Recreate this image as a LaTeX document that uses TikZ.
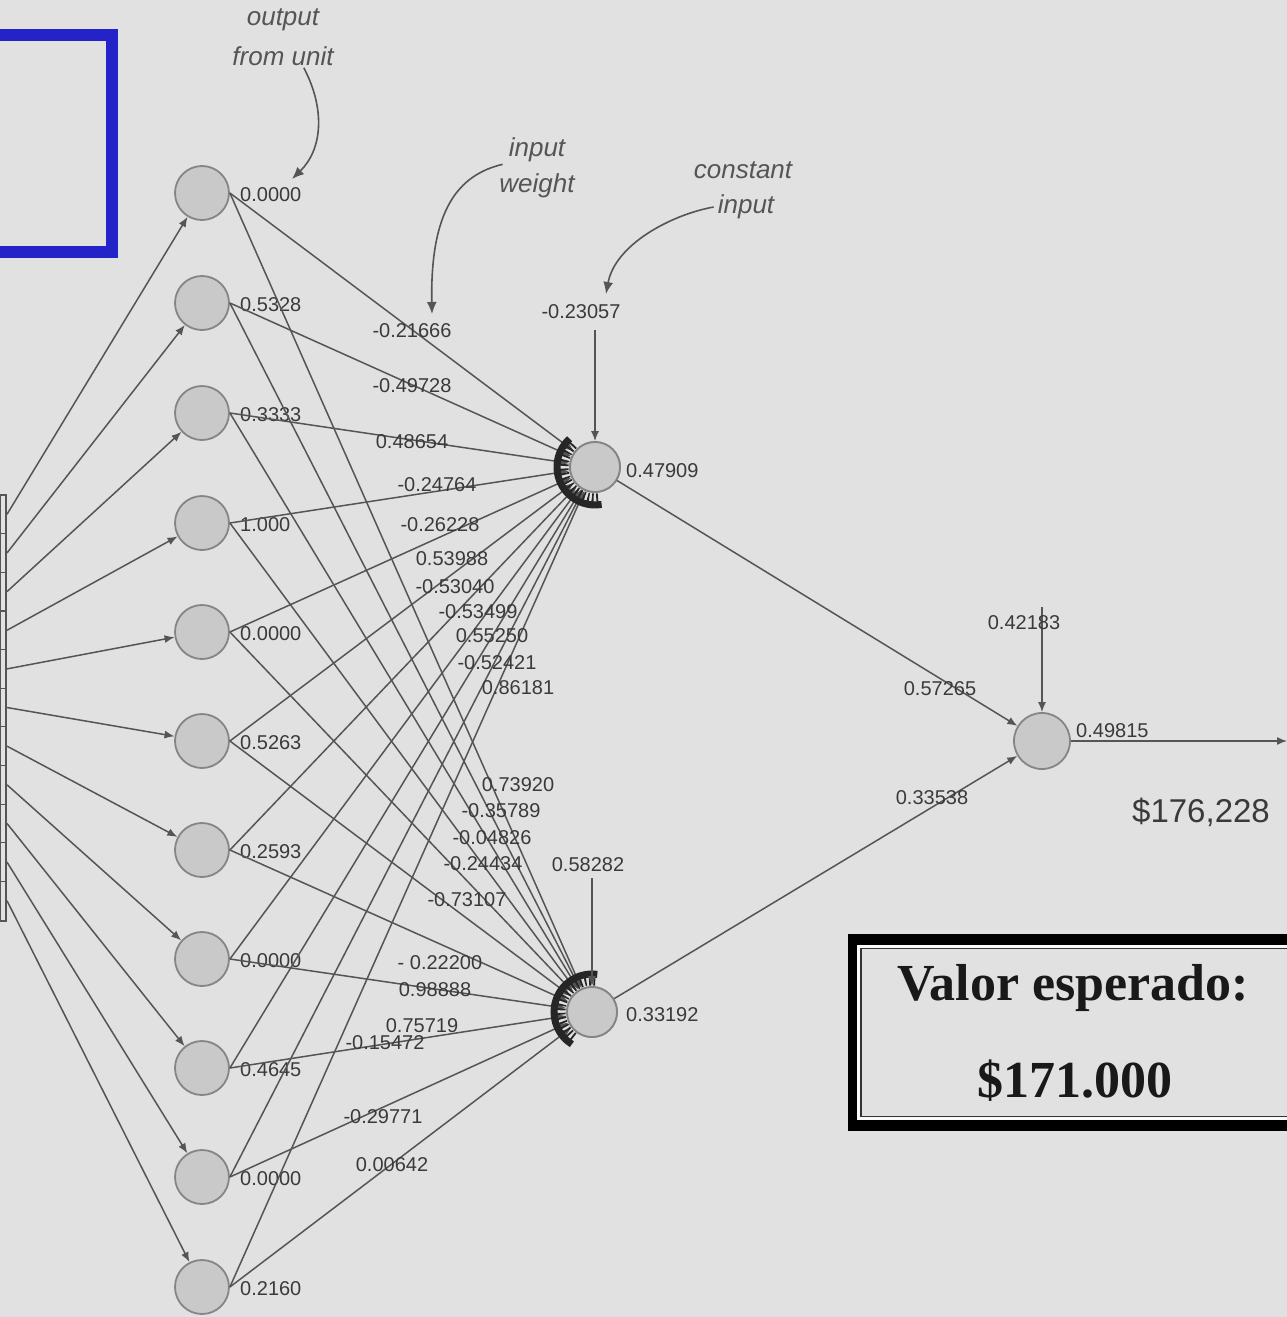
\documentclass[tikz,border=0pt]{standalone}
\usepackage{fontspec}
\setmainfont{Liberation Serif}
\setsansfont{Liberation Sans}
\usetikzlibrary{arrows.meta}
\definecolor{paper}{HTML}{E1E1E1}
\definecolor{wirecol}{HTML}{555555}
\definecolor{txt}{HTML}{3A3A3A}
\definecolor{notecol}{HTML}{555555}
\definecolor{unitfill}{HTML}{C9C9C9}
\definecolor{unitedge}{HTML}{858585}
\definecolor{combcol}{HTML}{262626}
\definecolor{framblue}{HTML}{2323C8}
\begin{document}
\begin{tikzpicture}[x=1pt,y=-1pt,
  unit/.style={circle, draw=unitedge, line width=1.8pt, fill=unitfill, minimum size=54pt, inner sep=0pt},
  hid/.style={unit, minimum size=50pt},
  wire/.style={draw=wirecol, line width=1.5pt},
  tip/.style={-{Latex[length=10pt,width=8pt]}},
  notewire/.style={draw=notecol, line width=1.6pt, -{Latex[length=12pt,width=10pt]}},
  num/.style={font=\sffamily\fontsize{20}{20}\selectfont, text=txt, inner sep=0pt},
  note/.style={font=\sffamily\itshape\fontsize{26}{26}\selectfont, text=notecol, inner sep=0pt},
  comb/.style={draw=combcol, line width=7pt},
  teeth/.style={draw=combcol, line width=9pt, dash pattern=on 1.8pt off 2.6pt},
]
\useasboundingbox[fill=paper] (0,0) rectangle (1287,1317);

% blue frame at the top left
\draw[framblue, line width=12pt] (-20,35) rectangle (112,252);

% input strip on the left edge
\draw[wirecol, line width=1.6pt] (0,495) rectangle (6,921);
\foreach \k in {1,...,10}
  \draw[wirecol, line width=1.2pt] (0,{495+38.64*\k}) -- (6,{495+38.64*\k});
\foreach \i in {1,...,11}
  \coordinate (s\i) at (7,{495+38.64*(\i-0.5)});

% input units with their outputs
\foreach \i/\y/\v in {1/193/0.0000, 2/303/0.5328, 3/413/0.3333, 4/523/1.000,
    5/632/0.0000, 6/741/0.5263, 7/850/0.2593, 8/959/0.0000, 9/1068/0.4645,
    10/1177/0.0000, 11/1287/0.2160} {
  \node[unit] (in\i) at (202,\y) {};
  \node[num, anchor=west] (v\i) at (240,\y+2) {\v};
}

% hidden and output units
\node[hid] (h1) at (595,467) {};
\node[hid] (h2) at (592,1012) {};
\node[unit, minimum size=56pt] (out) at (1042,741) {};

% strip to inputs
\foreach \i in {1,...,11}
  \draw[wire, tip] (s\i) -- (in\i);

% inputs to hidden units
\foreach \i in {1,...,11} {
  \draw[wire, tip] (in\i.east) -- (h1);
  \draw[wire, tip] (in\i.east) -- (h2);
}

% arrowhead combs gathered on the hidden units
\draw[comb] ([shift={(-132:38)}]h1.center) arc[start angle=-132, end angle=-280, radius=38];
\draw[teeth] ([shift={(-134:31)}]h1.center) arc[start angle=-134, end angle=-278, radius=31];
\draw[comb] ([shift={(-82:38)}]h2.center) arc[start angle=-82, end angle=-238, radius=38];
\draw[teeth] ([shift={(-84:31)}]h2.center) arc[start angle=-84, end angle=-236, radius=31];
\node[hid] at (h1) {};
\node[hid] at (h2) {};

% hidden to output and final output
\draw[wire, tip] (h1) -- (out);
\draw[wire, tip] (h2) -- (out);
\coordinate (yend) at (1287,741);
\draw[wire, tip] (out) -- (yend);

% constant inputs
\coordinate (c1) at (595,330);
\coordinate (c2) at (592,878);
\coordinate (c3) at (1042,607);
\draw[wire, tip] (c1) -- (h1.north);
\draw[wire, tip] (c2) -- (h2.north);
\draw[wire, tip] (c3) -- (out.north);
\node[num] (cb1) at (581,312) {-0.23057};
\node[num] (cb2) at (588,865) {0.58282};
\node[num] (cb3) at (1024,623) {0.42183};

% unit outputs
\node[num, anchor=west] (o1) at (626,471) {0.47909};
\node[num, anchor=west] (o2) at (626,1015) {0.33192};
\node[num, anchor=west] (o3) at (1076,731) {0.49815};
\node[num] (w31) at (940,689) {0.57265};
\node[num] (w32) at (932,798) {0.33538};

% weights into the first hidden unit
\node[num] (a1)  at (412,331) {-0.21666};
\node[num] (a2)  at (412,386) {-0.49728};
\node[num] (a3)  at (412,442) {0.48654};
\node[num] (a4)  at (437,485) {-0.24764};
\node[num] (a5)  at (440,525) {-0.26228};
\node[num] (a6)  at (452,559) {0.53988};
\node[num] (a7)  at (455,587) {-0.53040};
\node[num] (a8)  at (478,612) {-0.53499};
\node[num] (a9)  at (492,636) {0.55250};
\node[num] (a10) at (497,663) {-0.52421};
\node[num] (a11) at (518,688) {0.86181};

% weights into the second hidden unit
\node[num] (b1)  at (518,785) {0.73920};
\node[num] (b2)  at (501,811) {-0.35789};
\node[num] (b3)  at (492,838) {-0.04826};
\node[num] (b4)  at (483,864) {-0.24434};
\node[num] (b5)  at (467,900) {-0.73107};
\node[num] (b6)  at (440,963) {- 0.22200};
\node[num] (b7)  at (435,990) {0.98888};
\node[num] (b8)  at (422,1026) {0.75719};
\node[num] (b9)  at (385,1043) {-0.15472};
\node[num] (b10) at (383,1117) {-0.29771};
\node[num] (b11) at (392,1165) {0.00642};

% annotations
\node[note] (n1a) at (283,20) {output};
\node[note] (n1b) at (283,56) {from unit};
\node[note] (n2a) at (537,150) {input};
\node[note] (n2b) at (537,186) {weight};
\node[note] (n3a) at (743,170) {constant};
\node[note] (n3b) at (746,207) {input};
\coordinate (t1) at (292,179);
\coordinate (t2) at (432,314);
\coordinate (t3) at (606,294);
\draw[notewire] (n1b.south east) ++(-30,2) .. controls (326,110) and (322,150) .. (t1);
\draw[notewire] (n2a.south west) ++(-6,2) .. controls (458,175) and (430,210) .. (t2);
\draw[notewire] (n3b.west) ++(-4,0) .. controls (670,215) and (615,245) .. (t3);

% predicted price
\node[font=\sffamily\fontsize{33}{33}\selectfont, text=txt, anchor=base, inner sep=0pt] (pred) at (1201,822) {\$176,228};

% expected value box
\draw[black, line width=11pt] (853,939) rectangle (1310,1125);
\draw[white!85!paper, line width=3pt] (858.5,946.5) rectangle (1310,1118.5);
\draw[black!80, line width=1.3pt] (861,948.5) rectangle (1310,1116.5);
\node[font=\fontsize{52}{52}\selectfont\bfseries, text=black!90, anchor=base, inner sep=0pt] (ev1) at (1073,1000) {Valor esperado:};
\node[font=\fontsize{52}{52}\selectfont\bfseries, text=black!90, anchor=base, inner sep=0pt] (ev2) at (1075,1097) {\$171.000};
\end{tikzpicture}
\end{document}
